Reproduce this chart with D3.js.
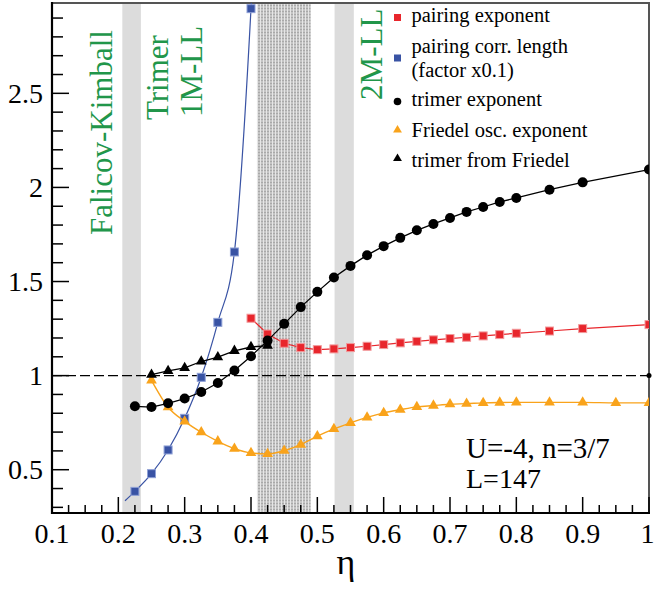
<!DOCTYPE html>
<meta charset="utf-8">
<style>
    body { margin: 0; background: #fff; }
    svg text { font-family: "Liberation Serif", "Times New Roman", serif; }
</style>
<script src="https://d3js.org/d3.v7.min.js"></script>
<svg id="chart" width="654" height="589"></svg>
<script>
    // pairing exponent (red squares)
    var pairEta = [0.4, 0.425, 0.45, 0.475, 0.5, 0.525, 0.55, 0.575, 0.6, 0.625, 0.65, 0.675, 0.7, 0.725, 0.75, 0.775, 0.8, 0.85, 0.9, 1.0];
    var pairExp = [1.305, 1.221, 1.172, 1.149, 1.138, 1.142, 1.149, 1.156, 1.165, 1.174, 1.182, 1.190, 1.197, 1.204, 1.211, 1.218, 1.225, 1.237, 1.250, 1.271];

    // pairing correlation length x0.1 (blue squares) + ends of the fit curve
    var corrEta = [0.225, 0.25, 0.275, 0.3, 0.325, 0.35, 0.375, 0.4];
    var corrLen = [0.385, 0.479, 0.605, 0.773, 0.991, 1.283, 1.657, 2.950];
    var corrFitEta = [0.21, 0.225, 0.25, 0.275, 0.3, 0.325, 0.35, 0.375, 0.4, 0.4015];
    var corrFit = [0.335, 0.385, 0.479, 0.605, 0.773, 0.991, 1.283, 1.657, 2.950, 3.05];

    // trimer exponent (black circles)
    var trimerEta = [0.225, 0.25, 0.275, 0.3, 0.325, 0.35, 0.375, 0.4, 0.425, 0.45, 0.475, 0.5, 0.525, 0.55, 0.575, 0.6, 0.625, 0.65, 0.675, 0.7, 0.725, 0.75, 0.775, 0.8, 0.85, 0.9, 1.0];
    var trimerExp = [0.837, 0.833, 0.853, 0.878, 0.913, 0.961, 1.027, 1.103, 1.186, 1.275, 1.364, 1.445, 1.521, 1.583, 1.640, 1.688, 1.732, 1.772, 1.806, 1.838, 1.870, 1.896, 1.923, 1.944, 1.988, 2.027, 2.095];

    // Friedel oscillation exponent (orange triangles)
    var friedelEta = [0.25, 0.275, 0.3, 0.325, 0.35, 0.375, 0.4, 0.425, 0.45, 0.475, 0.5, 0.525, 0.55, 0.575, 0.6, 0.625, 0.65, 0.675, 0.7, 0.725, 0.75, 0.775, 0.8, 0.85, 0.9, 0.95, 1.0];
    var friedelExp = [0.975, 0.832, 0.757, 0.699, 0.651, 0.612, 0.589, 0.584, 0.601, 0.633, 0.678, 0.717, 0.749, 0.778, 0.802, 0.819, 0.834, 0.841, 0.848, 0.851, 0.855, 0.857, 0.858, 0.858, 0.858, 0.855, 0.855];

    // trimer from Friedel (black triangles)
    var tfEta = [0.25, 0.275, 0.3, 0.325, 0.35, 0.375, 0.4, 0.425];
    var tfExp = [1.005, 1.025, 1.041, 1.075, 1.098, 1.132, 1.152, 1.159];

    // shaded regions [from, to]
    var grayBands = [[0.206, 0.234], [0.526, 0.555]];
    var crossover = [0.409, 0.490];

    // vertical phase labels, placed by their baseline (eta) and start (y)
    var phaseLabels = [
        {text: "Falicov-Kimball", eta: 0.1905, y: 1.747},
        {text: "Trimer", eta: 0.275, y: 2.358},
        {text: "1M-LL", eta: 0.326, y: 2.374},
        {text: "2M-LL", eta: 0.5977, y: 2.465}
    ];

    var legendItems = [
        {label: ["pairing exponent"], color: "#e8262c", shape: "square"},
        {label: ["pairing corr. length", "(factor x0.1)"], color: "#3953a4", shape: "square"},
        {label: ["trimer exponent"], color: "#000", shape: "circle"},
        {label: ["Friedel osc. exponent"], color: "#f9a31b", shape: "triangle"},
        {label: ["trimer from Friedel"], color: "#000", shape: "triangle"}
    ];

    var xTicks = [0.1, 0.2, 0.3, 0.4, 0.5, 0.6, 0.7, 0.8, 0.9, 1];
    var yTicks = [0.5, 1, 1.5, 2, 2.5];

    var svg = d3.select("#chart");
    var pLeft = 52, pRight = 649, pTop = 3, pBottom = 513;

    var x = d3.scaleLinear().domain([0.1, 1]).range([pLeft, pRight]);
    var y = d3.scaleLinear().domain([0.27, 2.98]).range([pBottom, pTop]);

    var green = "#21964a";

    // stipple pattern for the crossover region
    var defs = svg.append("defs");
    var pat = defs.append("pattern")
        .attr("id", "stipple")
        .attr("patternUnits", "userSpaceOnUse")
        .attr("width", 3).attr("height", 3);
    pat.append("rect").attr("width", 3).attr("height", 3).attr("fill", "#c4c4c4");
    pat.append("rect").attr("x", 2).attr("width", 1).attr("height", 3).attr("fill", "#e6e6e6");
    pat.append("rect").attr("y", 2).attr("width", 2).attr("height", 1).attr("fill", "#a9a9a9");

    defs.append("clipPath").attr("id", "plotclip")
        .append("rect")
        .attr("x", pLeft).attr("y", pTop)
        .attr("width", pRight - pLeft).attr("height", pBottom - pTop);

    // bands
    svg.append("g").selectAll("rect")
        .data(grayBands)
        .enter().append("rect")
        .attr("x", function(d) { return x(d[0]); })
        .attr("width", function(d) { return x(d[1]) - x(d[0]); })
        .attr("y", pTop)
        .attr("height", pBottom - pTop)
        .attr("fill", "#dcdcdc");

    svg.append("rect")
        .attr("x", x(crossover[0]))
        .attr("width", x(crossover[1]) - x(crossover[0]))
        .attr("y", pTop)
        .attr("height", pBottom - pTop)
        .attr("fill", "url(#stipple)");

    // phase labels
    svg.append("g").selectAll("text")
        .data(phaseLabels)
        .enter().append("text")
        .attr("transform", function(d) { return "translate(" + x(d.eta) + "," + y(d.y) + ") rotate(-90)"; })
        .attr("font-size", 31)
        .attr("fill", green)
        .attr("text-anchor", "start")
        .text(function(d) { return d.text; });

    // frame
    svg.append("rect")
        .attr("x", pLeft).attr("y", pTop)
        .attr("width", pRight - pLeft).attr("height", pBottom - pTop)
        .attr("fill", "none")
        .attr("stroke", "#555")
        .attr("stroke-width", 2);

    // axes with inward ticks
    var xMinor = d3.range(0.1, 1.0001, 0.025);
    var yMinor = d3.range(0.3, 2.95, 0.1);

    var axisG = svg.append("g");
    axisG.selectAll(".xminor")
        .data(xMinor)
        .enter().append("line")
        .attr("x1", function(d) { return x(d); })
        .attr("x2", function(d) { return x(d); })
        .attr("y1", pBottom)
        .attr("y2", function(d, i) { return i % 4 === 0 ? pBottom - 16 : pBottom - 8; })
        .attr("stroke", "#000")
        .attr("stroke-width", 1.5);

    axisG.selectAll(".yminor")
        .data(yMinor)
        .enter().append("line")
        .attr("y1", function(d) { return y(d); })
        .attr("y2", function(d) { return y(d); })
        .attr("x1", pLeft)
        .attr("x2", function(d) { return Math.abs(Math.round(d * 10) % 5) === 0 ? pLeft + 17 : pLeft + 11; })
        .attr("stroke", "#000")
        .attr("stroke-width", 1.5);

    axisG.append("line")
        .attr("x1", pLeft).attr("x2", pRight + 1)
        .attr("y1", pBottom).attr("y2", pBottom)
        .attr("stroke", "#000").attr("stroke-width", 2.2);
    axisG.append("line")
        .attr("x1", pLeft).attr("x2", pLeft)
        .attr("y1", pTop - 1).attr("y2", pBottom + 1)
        .attr("stroke", "#000").attr("stroke-width", 2.2);

    var fmt = d3.format("~g");
    axisG.selectAll(".xlab")
        .data(xTicks)
        .enter().append("text")
        .attr("x", function(d) { return d === 1 ? x(d) - 1.5 : x(d); })
        .attr("y", 543)
        .attr("text-anchor", "middle")
        .attr("font-size", 28)
        .text(fmt);

    axisG.selectAll(".ylab")
        .data(yTicks)
        .enter().append("text")
        .attr("x", 43)
        .attr("y", function(d) { return y(d) + 9.5; })
        .attr("text-anchor", "end")
        .attr("font-size", 28)
        .text(fmt);

    svg.append("text")
        .attr("x", 346)
        .attr("y", 574)
        .attr("text-anchor", "middle")
        .attr("font-size", 36)
        .text("η");

    // reference line at 1
    svg.append("line")
        .attr("x1", pLeft).attr("x2", pRight)
        .attr("y1", y(1)).attr("y2", y(1))
        .attr("stroke", "#000")
        .attr("stroke-width", 1.3)
        .attr("stroke-dasharray", "10,4");
    svg.append("circle")
        .attr("cx", x(1)).attr("cy", y(1)).attr("r", 2.5)
        .attr("fill", "#000");

    var plot = svg.append("g").attr("clip-path", "url(#plotclip)");

    function zip(xs, ys) {
        return xs.map(function(v, i) { return [v, ys[i]]; });
    }

    var lineStraight = d3.line()
        .x(function(d) { return x(d[0]); })
        .y(function(d) { return y(d[1]); });
    var lineSmooth = d3.line()
        .x(function(d) { return x(d[0]); })
        .y(function(d) { return y(d[1]); })
        .curve(d3.curveMonotoneX);

    var triangle = d3.symbol().type(d3.symbolTriangle).size(50);

    function drawSquares(g, pts, fill, stroke, size) {
        g.selectAll(null)
            .data(pts)
            .enter().append("rect")
            .attr("x", function(d) { return x(d[0]) - size / 2; })
            .attr("y", function(d) { return y(d[1]) - size / 2; })
            .attr("width", size).attr("height", size)
            .attr("fill", fill)
            .attr("stroke", stroke)
            .attr("stroke-width", 1);
    }
    function drawTriangles(g, pts, fill) {
        g.selectAll(null)
            .data(pts)
            .enter().append("path")
            .attr("d", triangle)
            .attr("transform", function(d) { return "translate(" + x(d[0]) + "," + y(d[1]) + ")"; })
            .attr("fill", fill);
    }

    // blue: correlation length
    var corrPts = zip(corrEta, corrLen);
    plot.append("path")
        .attr("d", lineSmooth(zip(corrFitEta, corrFit)))
        .attr("fill", "none").attr("stroke", "#3953a4").attr("stroke-width", 1.2);
    drawSquares(plot, corrPts, "#3953a4", "#8ea0d6", 8);

    // orange: Friedel exponent
    var friedelPts = zip(friedelEta, friedelExp);
    plot.append("path")
        .attr("d", lineSmooth(friedelPts))
        .attr("fill", "none").attr("stroke", "#f9a31b").attr("stroke-width", 1.4);
    drawTriangles(plot, friedelPts, "#f9a31b");

    // black triangles: trimer from Friedel
    var tfPts = zip(tfEta, tfExp);
    plot.append("path")
        .attr("d", lineStraight(tfPts))
        .attr("fill", "none").attr("stroke", "#000").attr("stroke-width", 1.3);
    drawTriangles(plot, tfPts, "#000");

    // red: pairing exponent
    var pairPts = zip(pairEta, pairExp);
    plot.append("path")
        .attr("d", lineStraight(pairPts))
        .attr("fill", "none").attr("stroke", "#e8262c").attr("stroke-width", 1.2);
    drawSquares(plot, pairPts, "#e8262c", "#f29a9c", 8);

    // black circles: trimer exponent
    var trimerPts = zip(trimerEta, trimerExp);
    plot.append("path")
        .attr("d", lineStraight(trimerPts))
        .attr("fill", "none").attr("stroke", "#000").attr("stroke-width", 1.3);
    plot.selectAll(null)
        .data(trimerPts)
        .enter().append("circle")
        .attr("cx", function(d) { return x(d[0]); })
        .attr("cy", function(d) { return y(d[1]); })
        .attr("r", 5)
        .attr("fill", "#000");

    // legend
    var legendRows = [22, 53, 106, 137, 167];
    var legendMark = [17.5, 58, 101.5, 130, 158.5];
    var legend = svg.append("g");
    legendItems.forEach(function(item, i) {
        var cy = legendMark[i];
        if (item.shape === "square") {
            legend.append("rect")
                .attr("x", 397.5 - 3.5).attr("y", cy - 3.5)
                .attr("width", 7).attr("height", 7)
                .attr("fill", item.color);
        } else if (item.shape === "circle") {
            legend.append("circle")
                .attr("cx", 397.5).attr("cy", cy).attr("r", 3.8)
                .attr("fill", item.color);
        } else {
            legend.append("path")
                .attr("d", d3.symbol().type(d3.symbolTriangle).size(34)())
                .attr("transform", "translate(397.5," + cy + ")")
                .attr("fill", item.color);
        }
        item.label.forEach(function(line, j) {
            legend.append("text")
                .attr("x", 411.5)
                .attr("y", legendRows[i] + j * 24)
                .attr("font-size", 20.5)
                .text(line);
        });
    });

    // parameters
    svg.append("text")
        .attr("x", 466).attr("y", 458)
        .attr("font-size", 29)
        .text("U=-4, n=3/7");
    svg.append("text")
        .attr("x", 466).attr("y", 488)
        .attr("font-size", 28)
        .text("L=147");
</script>
